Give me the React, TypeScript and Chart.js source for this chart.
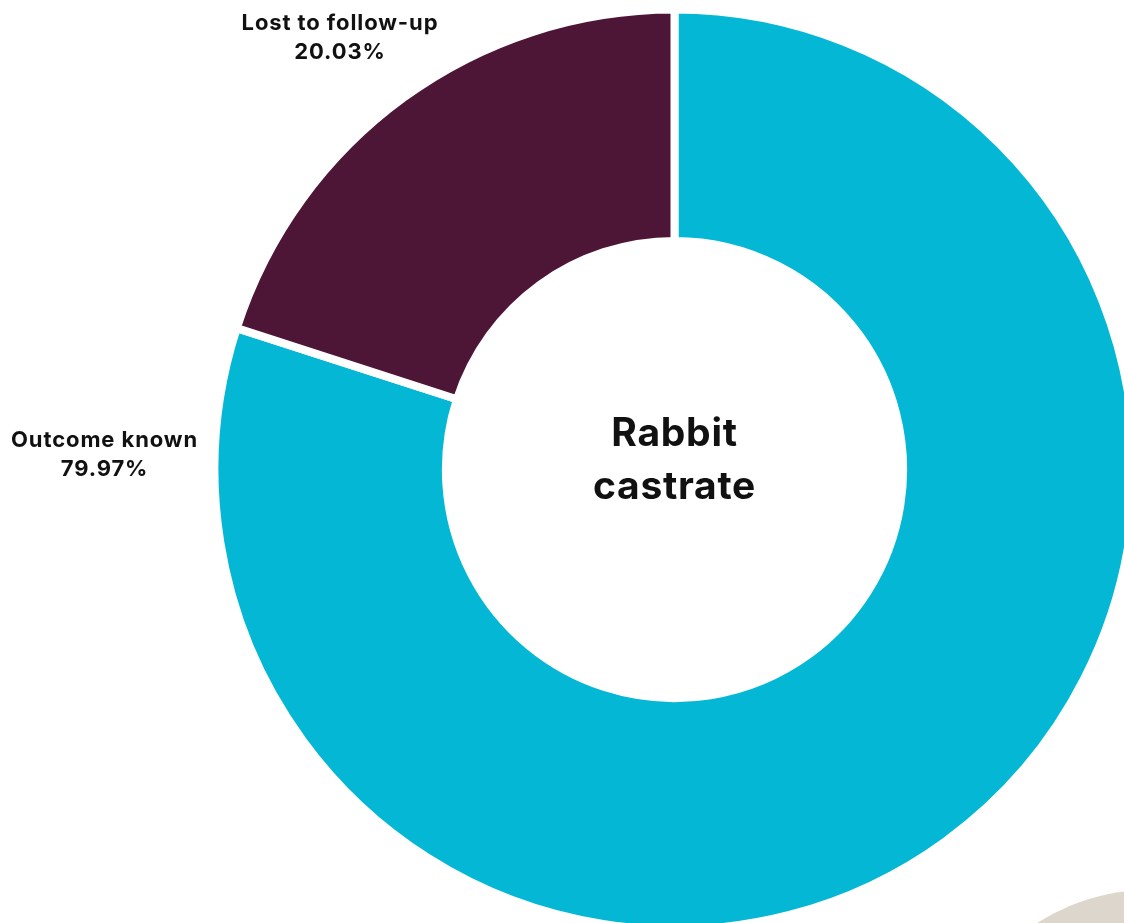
import React, { useEffect, useRef } from "react";
import { Chart, registerables } from "chart.js";

Chart.register(...registerables);

const categories = ["Outcome known", "Lost to follow-up"];
const values = [79.97, 20.03];
const valueLabels = ["79.97%", "20.03%"];
const colors = ["#04b8d5", "#4d1536"];
const centerTitle = ["Rabbit", "castrate"];

const FONT = "Inter, 'Noto Sans', sans-serif";

const labelPlugin = {
  id: "labelPlugin",
  afterDraw(chart: any) {
    const ctx = chart.ctx;
    const area = chart.chartArea;
    const cx = (area.left + area.right) / 2;
    const cy = (area.top + area.bottom) / 2;
    ctx.save();
    ctx.fillStyle = "#111111";
    ctx.textAlign = "center";
    ctx.textBaseline = "alphabetic";
    // center title
    ctx.font = `700 39px ${FONT}`;
    (ctx as any).letterSpacing = "0.7px";
    ctx.fillText(centerTitle[0], cx, cy - 24);
    ctx.fillText(centerTitle[1], cx, cy + 29);
    // outside labels
    ctx.font = `700 22px ${FONT}`;
    (ctx as any).letterSpacing = "0.9px";
    const pos = [
      { dx: -570, dy: -23 },
      { dx: -334.5, dy: -440 },
    ];
    categories.forEach((c, i) => {
      const x = cx + pos[i].dx;
      const y = cy + pos[i].dy;
      ctx.fillText(c, x, y);
      ctx.fillText(valueLabels[i], x, y + 29);
    });
    ctx.restore();
  },
};

export default function App() {
  const ref = useRef<HTMLCanvasElement | null>(null);
  useEffect(() => {
    if (!ref.current) return;
    const chart = new Chart(ref.current, {
      type: "doughnut",
      data: {
        labels: categories,
        datasets: [
          {
            data: values,
            backgroundColor: colors,
            borderColor: "#ffffff",
            borderWidth: 8,
            hoverOffset: 0,
            clip: false as any,
          },
        ],
      },
      options: {
        responsive: false,
        animation: false,
        radius: 460,
        cutout: "49.7%",
        layout: { padding: { left: 225, top: 16, right: 0, bottom: 0 } },
        plugins: {
          legend: { display: false },
          tooltip: { enabled: false },
        },
      } as any,
      plugins: [labelPlugin],
    });
    return () => chart.destroy();
  }, []);
  return (
    <div
      style={{
        position: "fixed",
        left: 0,
        top: 0,
        width: 1124,
        height: 923,
        overflow: "hidden",
        background: "#ffffff",
      }}
    >
      <div
        style={{
          position: "absolute",
          left: 940,
          top: 890,
          width: 420,
          height: 420,
          borderRadius: "50%",
          background: "#ddd6cc",
        }}
      />
      <canvas
        ref={ref}
        width={1124}
        height={923}
        style={{ position: "absolute", left: 0, top: 0, width: 1124, height: 923 }}
      />
    </div>
  );
}
